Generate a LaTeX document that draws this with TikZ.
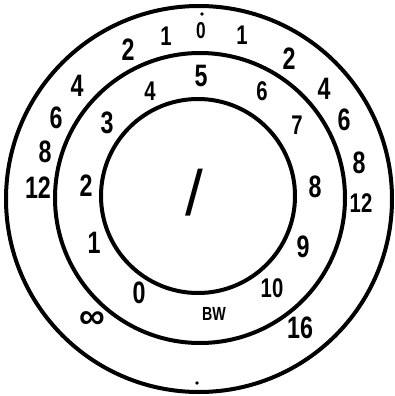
\documentclass[tikz,border=0pt]{standalone}
\usepackage{fontspec}
\usepackage{graphicx}
\setsansfont{Liberation Sans}
\newcommand{\nrw}[1]{\scalebox{0.75}[1]{#1}}
\begin{document}
\begin{tikzpicture}[x=1pt,y=-1pt,
  ring/.style={line width=4pt},
  lbl/.style={font=\sffamily\bfseries\fontsize{31}{31}\selectfont, inner sep=0pt},
  lblm/.style={font=\sffamily\bfseries\fontsize{27}{27}\selectfont, inner sep=0pt},
  lbls/.style={font=\sffamily\bfseries\fontsize{23}{23}\selectfont, inner sep=0pt},
  lblxs/.style={font=\sffamily\bfseries\fontsize{19}{19}\selectfont, inner sep=0pt},
  dotmark/.style={fill=black}]
\useasboundingbox (0,0) rectangle (394,396);
% rings
\draw[ring] (199,199) circle (193pt);
\draw[ring] (200,198) circle (145pt);
\draw[ring] (198,196) circle (97pt);
% marks
\fill[dotmark] (202,14) circle (1.8pt);
\fill[dotmark] (197,383) circle (1.8pt);
% outer ring
\node[lbl]  (o1)  at (128,50)  {\nrw{2}};
\node[lblm] (o2)  at (166,36)  {\nrw{1}};
\node[lbls] (o3)  at (201,31)  {\nrw{0}};
\node[lblm] (o4)  at (242,35)  {\nrw{1}};
\node[lbl]  (o5)  at (289,59)  {\nrw{2}};
\node[lbl]  (o6)  at (324,89)  {\nrw{4}};
\node[lbl]  (o7)  at (344,120) {\nrw{6}};
\node[lbl]  (o8)  at (359,163) {\nrw{8}};
\node[lblm] (o9)  at (361,203) {\nrw{12}};
\node[lbl]  (o10) at (300,328) {\nrw{16}};
\node[font=\sffamily\bfseries\fontsize{36}{36}\selectfont, inner sep=0pt] (o11) at (92,320) {∞};
\node[lbl]  (o12) at (38,188)  {\nrw{12}};
\node[lbl]  (o13) at (45,152)  {\nrw{8}};
\node[lbl]  (o14) at (56,118)  {\nrw{6}};
\node[lbl]  (o15) at (77,86)   {\nrw{4}};
% middle ring
\node[lbl]  (m1)  at (201,76)  {\nrw{5}};
\node[lblm] (m2)  at (150,91)  {\nrw{4}};
\node[lbl]  (m3)  at (107,123) {\nrw{3}};
\node[lbl]  (m4)  at (86,186)  {\nrw{2}};
\node[lbl]  (m5)  at (94,243)  {\nrw{1}};
\node[lbl]  (m6)  at (139,293) {\nrw{0}};
\node[lblxs](m7)  at (214,314) {\nrw{BW}};
\node[lblm] (m8)  at (272,288) {\nrw{10}};
\node[lbl]  (m9)  at (303,247) {\nrw{9}};
\node[lbl]  (m10) at (315,187) {\nrw{8}};
\node[lblm] (m11) at (297,125) {\nrw{7}};
\node[lblm] (m12) at (262,91)  {\nrw{6}};
% centre
\node[font=\sffamily\fontsize{64}{64}\selectfont, inner sep=0pt] (c) at (194,193) {/};
\end{tikzpicture}
\end{document}
